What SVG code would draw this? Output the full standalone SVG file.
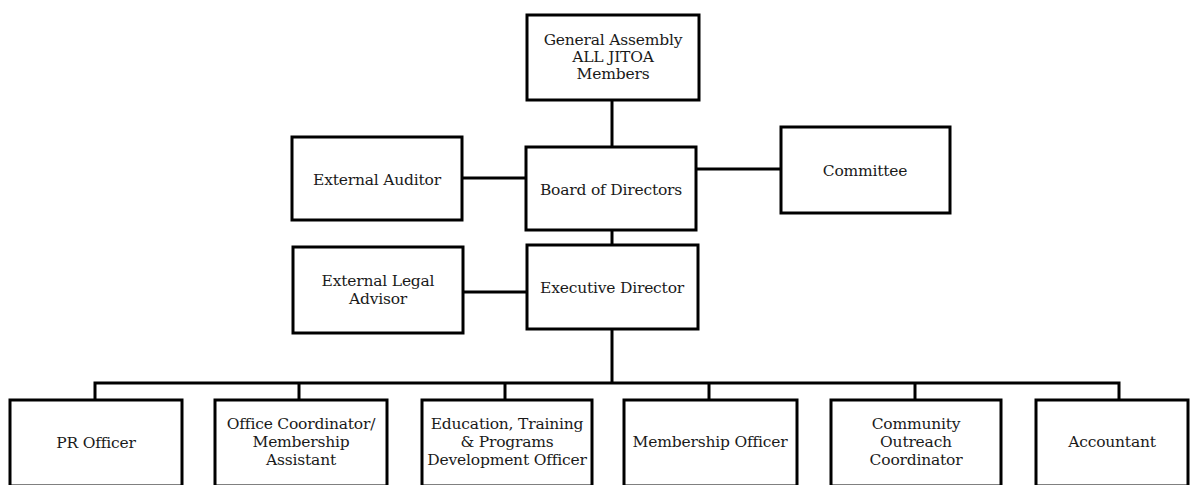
<svg xmlns="http://www.w3.org/2000/svg" width="1195" height="485" viewBox="0 0 1195 485">
<style>
.box{fill:#fff;stroke:#000;stroke-width:3}
.t{font-family:"DejaVu Serif","Liberation Serif",serif;font-size:15.5px;fill:#1a1a1a;text-anchor:middle;letter-spacing:-0.2px}
.c{stroke:#000;stroke-width:3;fill:none}
</style>
<rect width="1195" height="485" fill="#fff"/>
<g id="connectors">
<line class="c" x1="612" y1="100" x2="612" y2="147"/>
<line class="c" x1="462" y1="178" x2="526" y2="178"/>
<line class="c" x1="696" y1="169" x2="781" y2="169"/>
<line class="c" x1="612" y1="230" x2="612" y2="245"/>
<line class="c" x1="463" y1="292" x2="527" y2="292"/>
<line class="c" x1="612" y1="329" x2="612" y2="383"/>
<polyline class="c" points="95,400 95,383 1119,383 1119,400"/>
<line class="c" x1="299" y1="383" x2="299" y2="400"/>
<line class="c" x1="505" y1="383" x2="505" y2="400"/>
<line class="c" x1="709" y1="383" x2="709" y2="400"/>
<line class="c" x1="915" y1="383" x2="915" y2="400"/>
</g>
<g id="general-assembly">
<rect class="box" x="527" y="15" width="172" height="85"/>
<text class="t" x="613" y="45">General Assembly</text>
<text class="t" x="613" y="62">ALL JITOA</text>
<text class="t" x="613" y="79">Members</text>
</g>
<g id="external-auditor">
<rect class="box" x="292" y="137" width="170" height="83"/>
<text class="t" x="377" y="185">External Auditor</text>
</g>
<g id="board">
<rect class="box" x="526" y="147" width="170" height="83"/>
<text class="t" x="611" y="195">Board of Directors</text>
</g>
<g id="committee">
<rect class="box" x="781" y="127" width="169" height="86"/>
<text class="t" x="865" y="176">Committee</text>
</g>
<g id="external-legal">
<rect class="box" x="293" y="247" width="170" height="86"/>
<text class="t" x="378" y="286">External Legal</text>
<text class="t" x="378" y="304">Advisor</text>
</g>
<g id="executive-director">
<rect class="box" x="527" y="245" width="171" height="84"/>
<text class="t" x="612" y="293">Executive Director</text>
</g>
<g id="pr-officer">
<rect class="box" x="10" y="400" width="172" height="86"/>
<text class="t" x="96" y="448">PR Officer</text>
</g>
<g id="office-coordinator">
<rect class="box" x="215" y="400" width="172" height="86"/>
<text class="t" x="301" y="429">Office Coordinator/</text>
<text class="t" x="301" y="447">Membership</text>
<text class="t" x="301" y="465">Assistant</text>
</g>
<g id="education">
<rect class="box" x="422" y="400" width="170" height="86"/>
<text class="t" x="507" y="429">Education, Training</text>
<text class="t" x="507" y="447">&amp; Programs</text>
<text class="t" x="507" y="465">Development Officer</text>
</g>
<g id="membership-officer">
<rect class="box" x="624" y="400" width="173" height="86"/>
<text class="t" x="710" y="447">Membership Officer</text>
</g>
<g id="community">
<rect class="box" x="831" y="400" width="170" height="86"/>
<text class="t" x="916" y="429">Community</text>
<text class="t" x="916" y="447">Outreach</text>
<text class="t" x="916" y="465">Coordinator</text>
</g>
<g id="accountant">
<rect class="box" x="1036" y="400" width="152" height="86"/>
<text class="t" x="1112" y="447">Accountant</text>
</g>
</svg>
